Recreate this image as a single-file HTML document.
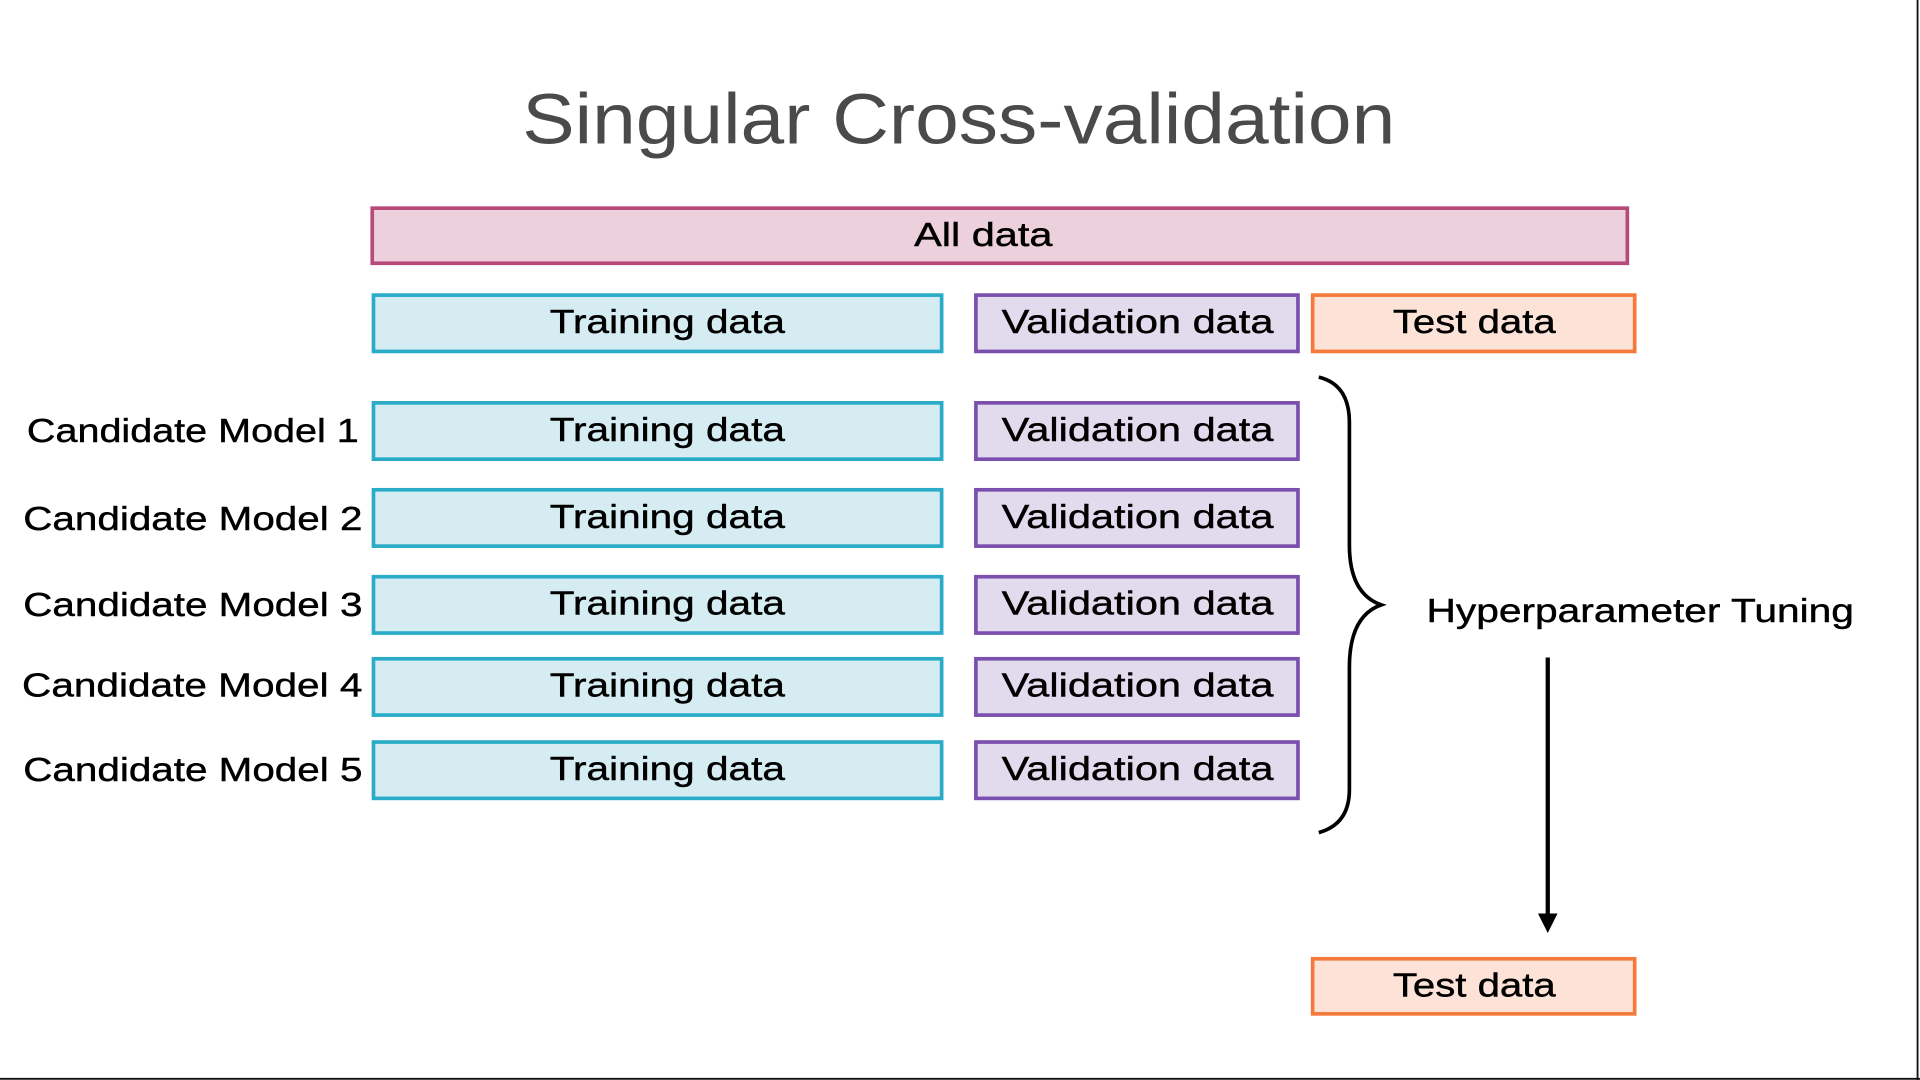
<!DOCTYPE html>
<html><head><meta charset="utf-8"><style>
html,body{margin:0;padding:0;background:#fff;}
svg{display:block;}
text{font-family:"Liberation Sans",sans-serif;fill:#000;}
g text{stroke:#000;stroke-width:0.35;}
</style></head><body>
<svg width="1920" height="1080" viewBox="0 0 1568 882" preserveAspectRatio="none" xmlns="http://www.w3.org/2000/svg">
<rect x="0" y="0" width="1568" height="882" fill="#fff"/>
<line x1="1566" y1="0" x2="1566" y2="882" stroke="#111" stroke-width="1.5"/>
<line x1="0" y1="881" x2="1568" y2="881" stroke="#111" stroke-width="1.5"/>
<text x="783" y="117" text-anchor="middle" font-size="58" style="fill:#4a4a4a" textLength="713" lengthAdjust="spacingAndGlyphs">Singular Cross-validation</text>

<rect x="304" y="170" width="1025" height="45" fill="#ecd0dc" stroke="#b84a7a" stroke-width="3"/>

<g font-size="27">
<text x="803" y="201" text-anchor="middle" textLength="113" lengthAdjust="spacingAndGlyphs">All data</text>
<rect x="305" y="241" width="464" height="46" fill="#d5edf2" stroke="#2aacc8" stroke-width="3"/>
<text x="545" y="272" text-anchor="middle" textLength="192" lengthAdjust="spacingAndGlyphs">Training data</text>
<rect x="797" y="241" width="263" height="46" fill="#e2dbee" stroke="#7b4fae" stroke-width="3"/>
<text x="929" y="272" text-anchor="middle" textLength="222" lengthAdjust="spacingAndGlyphs">Validation data</text>
<rect x="1072" y="241" width="263" height="46" fill="#fde2d8" stroke="#f47a3c" stroke-width="3"/>
<text x="1204" y="272" text-anchor="middle" textLength="133" lengthAdjust="spacingAndGlyphs">Test data</text>

<rect x="305" y="329" width="464" height="46" fill="#d5edf2" stroke="#2aacc8" stroke-width="3"/>
<text x="545" y="360" text-anchor="middle" textLength="192" lengthAdjust="spacingAndGlyphs">Training data</text>
<rect x="797" y="329" width="263" height="46" fill="#e2dbee" stroke="#7b4fae" stroke-width="3"/>
<text x="929" y="360" text-anchor="middle" textLength="222" lengthAdjust="spacingAndGlyphs">Validation data</text>
<text x="293" y="361" text-anchor="end" textLength="271" lengthAdjust="spacingAndGlyphs">Candidate Model 1</text>

<rect x="305" y="400" width="464" height="46" fill="#d5edf2" stroke="#2aacc8" stroke-width="3"/>
<text x="545" y="431" text-anchor="middle" textLength="192" lengthAdjust="spacingAndGlyphs">Training data</text>
<rect x="797" y="400" width="263" height="46" fill="#e2dbee" stroke="#7b4fae" stroke-width="3"/>
<text x="929" y="431" text-anchor="middle" textLength="222" lengthAdjust="spacingAndGlyphs">Validation data</text>
<text x="296" y="433" text-anchor="end" textLength="277" lengthAdjust="spacingAndGlyphs">Candidate Model 2</text>

<rect x="305" y="471" width="464" height="46" fill="#d5edf2" stroke="#2aacc8" stroke-width="3"/>
<text x="545" y="502" text-anchor="middle" textLength="192" lengthAdjust="spacingAndGlyphs">Training data</text>
<rect x="797" y="471" width="263" height="46" fill="#e2dbee" stroke="#7b4fae" stroke-width="3"/>
<text x="929" y="502" text-anchor="middle" textLength="222" lengthAdjust="spacingAndGlyphs">Validation data</text>
<text x="296" y="503" text-anchor="end" textLength="277" lengthAdjust="spacingAndGlyphs">Candidate Model 3</text>

<rect x="305" y="538" width="464" height="46" fill="#d5edf2" stroke="#2aacc8" stroke-width="3"/>
<text x="545" y="569" text-anchor="middle" textLength="192" lengthAdjust="spacingAndGlyphs">Training data</text>
<rect x="797" y="538" width="263" height="46" fill="#e2dbee" stroke="#7b4fae" stroke-width="3"/>
<text x="929" y="569" text-anchor="middle" textLength="222" lengthAdjust="spacingAndGlyphs">Validation data</text>
<text x="296" y="569" text-anchor="end" textLength="278" lengthAdjust="spacingAndGlyphs">Candidate Model 4</text>

<rect x="305" y="606" width="464" height="46" fill="#d5edf2" stroke="#2aacc8" stroke-width="3"/>
<text x="545" y="637" text-anchor="middle" textLength="192" lengthAdjust="spacingAndGlyphs">Training data</text>
<rect x="797" y="606" width="263" height="46" fill="#e2dbee" stroke="#7b4fae" stroke-width="3"/>
<text x="929" y="637" text-anchor="middle" textLength="222" lengthAdjust="spacingAndGlyphs">Validation data</text>
<text x="296" y="638" text-anchor="end" textLength="277" lengthAdjust="spacingAndGlyphs">Candidate Model 5</text>

<path d="M1077 308 Q1102 314 1102 345 L1102 445 Q1102 485 1128 494 Q1102 503 1102 545 L1102 645 Q1102 673 1077 680" fill="none" stroke="#000" stroke-width="3"/>
<text x="1165" y="508" textLength="349" lengthAdjust="spacingAndGlyphs">Hyperparameter Tuning</text>

<line x1="1264" y1="537" x2="1264" y2="748" stroke="#000" stroke-width="3.5"/>
<polygon points="1256,746 1272,746 1264,762" fill="#000"/>

<rect x="1072" y="783" width="263" height="45" fill="#fde2d8" stroke="#f47a3c" stroke-width="3"/>
<text x="1204" y="814" text-anchor="middle" textLength="133" lengthAdjust="spacingAndGlyphs">Test data</text>
</g>
</svg>
</body></html>
